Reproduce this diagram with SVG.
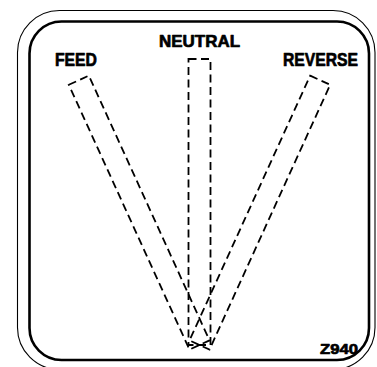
<svg xmlns="http://www.w3.org/2000/svg" width="377" height="367" viewBox="0 0 377 367">
  <style>
    .lbl { font-family: "Liberation Sans", Arial, sans-serif; font-weight: bold; fill: #000; stroke: #000; stroke-width: 0.7; stroke-linejoin: round; }
    .dash { fill: none; stroke: #000; stroke-width: 1.8; stroke-dasharray: 8 4.5; }
  </style>
  <rect width="377" height="367" fill="#fff"/>
  <g id="frame">
    <rect x="17.5" y="10.5" width="357.5" height="359" rx="42" ry="42" fill="none" stroke="#000" stroke-width="1.1"/>
    <rect x="29.5" y="21.5" width="339.5" height="338.5" rx="32" ry="32" fill="none" stroke="#000" stroke-width="2.6"/>
  </g>
  <g id="connectors">
    <g id="slot-neutral">
      <rect class="dash" x="188.5" y="59" width="22" height="286"/>
    </g>
    <g id="slot-feed">
      <rect class="dash" x="188.5" y="54" width="22" height="291" transform="rotate(-24.5 199.5 345)"/>
    </g>
    <g id="slot-reverse">
      <rect class="dash" x="188.5" y="54" width="22" height="291" transform="rotate(24.5 199.5 345)"/>
    </g>
  </g>
  <g id="feed">
    <text class="lbl" x="55" y="66" font-size="18" textLength="42" lengthAdjust="spacingAndGlyphs">FEED</text>
  </g>
  <g id="neutral">
    <text class="lbl" x="159" y="47" font-size="17" textLength="81" lengthAdjust="spacingAndGlyphs">NEUTRAL</text>
  </g>
  <g id="reverse">
    <text class="lbl" x="283" y="66" font-size="18" textLength="75" lengthAdjust="spacingAndGlyphs">REVERSE</text>
  </g>
  <g id="code">
    <text class="lbl" x="320" y="354" font-size="15" textLength="38" lengthAdjust="spacingAndGlyphs" stroke-width="0.3">Z940</text>
  </g>
</svg>
